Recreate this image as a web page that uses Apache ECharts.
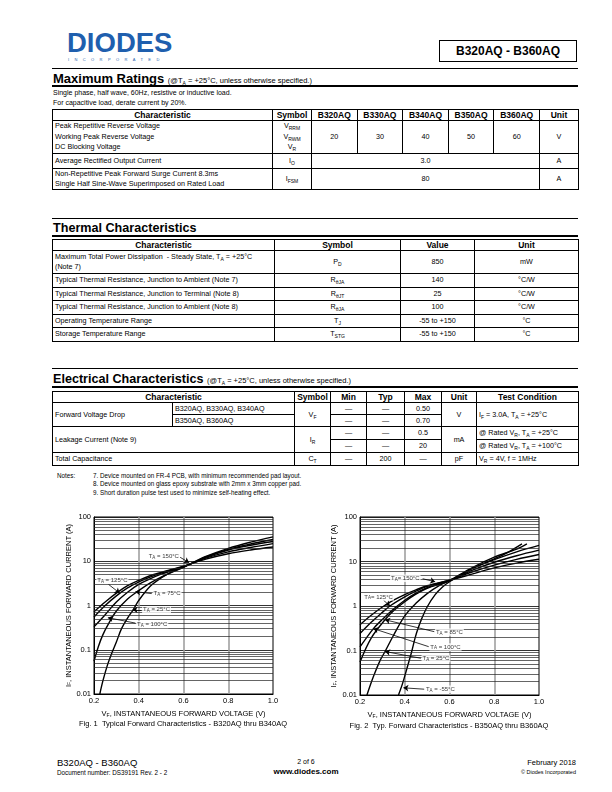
<!DOCTYPE html>
<html><head><meta charset="utf-8">
<script src="https://cdn.jsdelivr.net/npm/echarts@6/dist/echarts.min.js"></script>
<style>
body{margin:0;background:#fff;}
#page{position:relative;width:612px;height:792px;overflow:hidden;font-family:'Liberation Sans',Arial,sans-serif;color:#000;background:#fff;}
.abs{position:absolute;white-space:nowrap;}
.hl{position:absolute;left:52px;width:526px;background:#000;}
.sec{position:absolute;left:53px;font-weight:bold;font-size:13px;line-height:14px;white-space:nowrap;}
.sec small{font-weight:normal;font-size:7.5px;}
table.t{position:absolute;left:52px;width:526px;border-collapse:collapse;table-layout:fixed;border:1.5px solid #000;}
table.t td,table.t th{border:0.8px solid #000;padding:0 2px;font-size:7.2px;line-height:10px;text-align:center;white-space:nowrap;overflow:hidden;vertical-align:middle;}
table.t th{font-family:'Liberation Sans Narrow','Liberation Sans',Arial,sans-serif;font-stretch:condensed;font-size:8.5px;font-weight:bold;}
table.t td.l{text-align:left;}
sub{font-size:5px;vertical-align:-1.5px;line-height:0;}
.dash{font-size:8px;}
</style></head>
<body>
<div id="page">
  <!-- header -->
  <div class="abs" style="left:67px;top:28px;font-size:27.5px;font-weight:bold;color:#1f5fae;letter-spacing:0px;line-height:30px;">DIODES</div>
  <div class="abs" style="left:68px;top:57px;font-size:4px;letter-spacing:5.4px;color:#1f5fae;line-height:5px;">INCORPORATED</div>
  <div class="abs" style="left:439px;top:40px;width:136px;height:20px;border:1.5px solid #000;font-weight:bold;font-size:12px;line-height:20px;text-align:center;">B320AQ - B360AQ</div>
  <div class="hl" style="top:68px;height:1px;"></div>

  <div class="sec" style="top:72px;">Maximum Ratings <small>(@T<sub>A</sub> = +25°C, unless otherwise specified.)</small></div>
  <div class="hl" style="top:84.5px;height:2px;"></div>
  <div class="abs" style="left:53px;top:89px;font-size:7px;line-height:8px;">Single phase, half wave, 60Hz, resistive or inductive load.</div>
  <div class="abs" style="left:53px;top:99px;font-size:7px;line-height:8px;">For capacitive load, derate current by 20%.</div>

  <table class="t" style="top:109px;">
    <colgroup><col style="width:220px"><col style="width:39px"><col style="width:45.6px"><col style="width:45.6px"><col style="width:45.6px"><col style="width:45.6px"><col style="width:45.6px"><col style="width:39px"></colgroup>
    <tr style="height:11px"><th>Characteristic</th><th>Symbol</th><th>B320AQ</th><th>B330AQ</th><th>B340AQ</th><th>B350AQ</th><th>B360AQ</th><th>Unit</th></tr>
    <tr style="height:33px"><td class="l" style="line-height:10.5px">Peak Repetitive Reverse Voltage<br>Working Peak Reverse Voltage<br>DC Blocking Voltage</td><td style="line-height:10.5px">V<sub>RRM</sub><br>V<sub>RWM</sub><br>V<sub>R</sub></td><td>20</td><td>30</td><td>40</td><td>50</td><td>60</td><td>V</td></tr>
    <tr style="height:15px"><td class="l">Average Rectified Output Current</td><td>I<sub>O</sub></td><td colspan="5">3.0</td><td>A</td></tr>
    <tr style="height:21px"><td class="l">Non-Repetitive Peak Forward Surge Current 8.3ms<br>Single Half Sine-Wave Superimposed on Rated Load</td><td>I<sub>FSM</sub></td><td colspan="5">80</td><td>A</td></tr>
  </table>

  <div class="hl" style="top:218px;height:1px;"></div>
  <div class="sec" style="top:221px;font-size:12.6px;">Thermal Characteristics</div>
  <div class="hl" style="top:234.5px;height:2px;"></div>
  <table class="t" style="top:239px;">
    <colgroup><col style="width:222px"><col style="width:126px"><col style="width:74px"><col style="width:104px"></colgroup>
    <tr style="height:11px"><th>Characteristic</th><th>Symbol</th><th>Value</th><th>Unit</th></tr>
    <tr style="height:23px"><td class="l">Maximum Total Power Dissipation&nbsp; - Steady State, T<sub>A</sub> = +25°C<br>(Note 7)</td><td>P<sub>D</sub></td><td>850</td><td>mW</td></tr>
    <tr style="height:13.5px"><td class="l">Typical Thermal Resistance, Junction to Ambient (Note 7)</td><td>R<sub>θJA</sub></td><td>140</td><td>°C/W</td></tr>
    <tr style="height:13.5px"><td class="l">Typical Thermal Resistance, Junction to Terminal (Note 8)</td><td>R<sub>θJT</sub></td><td>25</td><td>°C/W</td></tr>
    <tr style="height:13.5px"><td class="l">Typical Thermal Resistance, Junction to Ambient (Note 8)</td><td>R<sub>θJA</sub></td><td>100</td><td>°C/W</td></tr>
    <tr style="height:13.5px"><td class="l">Operating Temperature Range</td><td>T<sub>J</sub></td><td>-55 to +150</td><td>°C</td></tr>
    <tr style="height:13.5px"><td class="l">Storage Temperature Range</td><td>T<sub>STG</sub></td><td>-55 to +150</td><td>°C</td></tr>
  </table>

  <div class="hl" style="top:368px;height:1px;"></div>
  <div class="sec" style="top:372px;font-size:12.6px;">Electrical Characteristics <small>(@T<sub>A</sub> = +25°C, unless otherwise specified.)</small></div>
  <div class="hl" style="top:385.5px;height:2px;"></div>
  <table class="t" style="top:391px;">
    <colgroup><col style="width:120px"><col style="width:122px"><col style="width:36px"><col style="width:36px"><col style="width:38px"><col style="width:37px"><col style="width:35px"><col style="width:102px"></colgroup>
    <tr style="height:11px"><th colspan="2">Characteristic</th><th>Symbol</th><th>Min</th><th>Typ</th><th>Max</th><th>Unit</th><th>Test Condition</th></tr>
    <tr style="height:12px"><td rowspan="2" class="l">Forward Voltage Drop</td><td class="l">B320AQ, B330AQ, B340AQ</td><td rowspan="2">V<sub>F</sub></td><td class="dash">—</td><td class="dash">—</td><td>0.50</td><td rowspan="2">V</td><td rowspan="2" class="l">I<sub>F</sub> = 3.0A, T<sub>A</sub> = +25°C</td></tr>
    <tr style="height:12px"><td class="l">B350AQ, B360AQ</td><td class="dash">—</td><td class="dash">—</td><td>0.70</td></tr>
    <tr style="height:13px"><td rowspan="2" colspan="2" class="l">Leakage Current (Note 9)</td><td rowspan="2">I<sub>R</sub></td><td class="dash">—</td><td class="dash">—</td><td>0.5</td><td rowspan="2">mA</td><td class="l">@ Rated V<sub>R</sub>, T<sub>A</sub> = +25°C</td></tr>
    <tr style="height:13px"><td class="dash">—</td><td class="dash">—</td><td>20</td><td class="l">@ Rated V<sub>R</sub>, T<sub>A</sub> = +100°C</td></tr>
    <tr style="height:13px"><td colspan="2" class="l">Total Capacitance</td><td>C<sub>T</sub></td><td class="dash">—</td><td>200</td><td class="dash">—</td><td>pF</td><td class="l">V<sub>R</sub> = 4V, f = 1MHz</td></tr>
  </table>
  <div class="abs" style="left:57px;top:472px;font-size:6.3px;line-height:8.3px;">Notes:</div>
  <div class="abs" style="left:93px;top:472px;font-size:6.3px;line-height:8.3px;">7. Device mounted on FR-4 PCB, with minimum recommended pad layout.<br>8. Device mounted on glass epoxy substrate with 2mm x 3mm copper pad.<br>9. Short duration pulse test used to minimize self-heating effect.</div>

  <div id="charts" style="position:absolute;left:0;top:500px;width:612px;height:240px;"></div>

  <!-- footer -->
  <div class="abs" style="left:57px;top:757px;font-size:9.5px;line-height:11px;">B320AQ - B360AQ</div>
  <div class="abs" style="left:57px;top:769px;font-size:6.3px;line-height:8px;">Document number: DS39191 Rev. 2 - 2</div>
  <div class="abs" style="left:256px;width:100px;text-align:center;top:758px;font-size:7px;line-height:8px;">2 of 6</div>
  <div class="abs" style="left:256px;width:100px;text-align:center;top:767px;font-size:8px;font-weight:bold;line-height:10px;">www.diodes.com</div>
  <div class="abs" style="left:456px;width:120px;text-align:right;top:758px;font-size:7.5px;line-height:9px;">February 2018</div>
  <div class="abs" style="left:456px;width:120px;text-align:right;top:769px;font-size:5.5px;line-height:7px;">© Diodes Incorporated</div>
</div>

<script>
// ---------------- data (V in volts, I in amperes) ----------------
const xTickLabels = ['0.2', '0.4', '0.6', '0.8', '1.0'];
const yTickLabels = ['0.01', '0.1', '1', '10', '100'];
const logMinorTicks = [0.02,0.03,0.04,0.05,0.06,0.07,0.08,0.09,0.2,0.3,0.4,0.5,0.6,0.7,0.8,0.9,2,3,4,5,6,7,8,9,20,30,40,50,60,70,80,90];

// Fig. 1  B320AQ thru B340AQ
const f1_T150 = [[0.2,0.72],[0.25,1.2],[0.3,1.9],[0.35,2.8],[0.4,3.7],[0.45,4.7],[0.5,5.6],[0.6,7.7],[0.7,11.2],[0.8,14.8],[0.9,18],[1.0,21]];
const f1_T125 = [[0.2,0.55],[0.25,1.0],[0.3,1.65],[0.35,2.5],[0.4,3.4],[0.45,4.4],[0.5,5.4],[0.6,7.6],[0.7,11.8],[0.8,16.3],[0.9,20.5],[1.0,25]];
const f1_T100 = [[0.2,0.33],[0.25,0.62],[0.3,1.2],[0.35,2.0],[0.4,3.0],[0.45,4.0],[0.5,5.1],[0.6,7.5],[0.7,12.2],[0.8,18],[0.9,23],[1.0,28]];
const f1_T75  = [[0.2,0.055],[0.22,0.12],[0.24,0.22],[0.264,0.38],[0.3,0.75],[0.35,1.4],[0.39,2.0],[0.45,3.2],[0.5,4.4],[0.6,7.3],[0.7,12.5],[0.8,18.5],[0.9,24.5],[1.0,31]];
const f1_T25  = [[0.226,0.01],[0.24,0.02],[0.26,0.045],[0.28,0.085],[0.3,0.15],[0.323,0.3],[0.35,0.52],[0.375,0.8],[0.4,1.3],[0.45,2.7],[0.5,4.2],[0.55,5.8],[0.6,7.4],[0.7,12.8],[0.8,19.5],[0.9,27],[1.0,35.6]];

// Fig. 2  B350AQ thru B360AQ
const f2_T150 = [[0.2,0.38],[0.25,0.62],[0.3,0.95],[0.35,1.35],[0.4,1.8],[0.45,2.3],[0.5,2.85],[0.6,3.8],[0.7,5.2],[0.8,7.2],[0.9,9.2],[1.0,11.2]];
const f2_T125 = [[0.2,0.24],[0.25,0.43],[0.3,0.72],[0.334,1.0],[0.4,1.6],[0.45,2.15],[0.5,2.75],[0.6,3.8],[0.7,5.8],[0.8,8.3],[0.9,11.2],[1.0,14.4]];
const f2_T100 = [[0.2,0.12],[0.26,0.31],[0.3,0.5],[0.35,0.85],[0.4,1.35],[0.45,1.95],[0.5,2.6],[0.6,3.75],[0.7,6.3],[0.8,9.6],[0.9,13.5],[1.0,18]];
const f2_T85  = [[0.2,0.055],[0.25,0.19],[0.312,0.49],[0.35,0.78],[0.4,1.25],[0.45,1.85],[0.5,2.5],[0.6,3.7],[0.7,6.9],[0.8,11],[0.9,16.5],[1.0,23]];
const f2_T25  = [[0.231,0.01],[0.26,0.026],[0.29,0.06],[0.312,0.095],[0.35,0.22],[0.4,0.6],[0.45,1.15],[0.5,1.9],[0.55,2.8],[0.6,3.7],[0.7,7.2],[0.8,12.5],[0.9,19],[0.946,25]];
const f2_Tm55 = [[0.372,0.01],[0.39,0.018],[0.41,0.04],[0.43,0.09],[0.446,0.19],[0.46,0.32],[0.476,0.52],[0.5,0.95],[0.536,1.8],[0.57,2.7],[0.6,3.5],[0.65,5],[0.7,6.9],[0.8,11.5],[0.85,15],[0.924,25]];

// curve annotations: label anchor, arrow start, arrow tip (data coords)
const f1Notes = [
  {t:'150', eq:' = ', at:[0.44,12.6],  from:[0.585,12.3], to:[0.625,9.3]},
  {t:'125', eq:' = ', at:[0.21,3.7],   from:[0.265,3.0],  to:[0.315,1.9]},
  {t:'75',  eq:' = ', at:[0.462,1.86], from:[0.458,1.86], to:[0.385,2.05]},
  {t:'25',  eq:' = ', at:[0.415,0.8],  from:[0.412,0.8],  to:[0.372,0.8]},
  {t:'100', eq:' = ', at:[0.388,0.37], from:[0.385,0.4],  to:[0.262,0.53]}
];
const f2Notes = [
  {t:'150', eq:'= ',  at:[0.334,4.2],   from:[0.48,4.1],    to:[0.536,3.5]},
  {t:'125', eq:'= ',  at:[0.215,1.6],   from:[0.305,1.35],  to:[0.334,1.0]},
  {t:'85',  eq:' = ', at:[0.535,0.26],  from:[0.532,0.265], to:[0.312,0.49]},
  {t:'100', eq:' = ', at:[0.51,0.12],   from:[0.507,0.122], to:[0.26,0.31]},
  {t:'25',  eq:' = ', at:[0.475,0.066], from:[0.472,0.067], to:[0.312,0.095]},
  {t:'-55', eq:' = ', at:[0.49,0.0135], from:[0.487,0.0135],to:[0.394,0.0145]}
];

// ---------------- chart ----------------
const FF = "'Liberation Sans', Arial, sans-serif";
const chart = echarts.init(document.getElementById('charts'), null, {renderer:'canvas', width:612, height:240});

const nameRich = {
  a:{fontSize:7.5, fontFamily:FF, color:'#000'},
  b:{fontSize:5, fontFamily:FF, color:'#000', padding:[3,0,0,0]}
};
const noteRich = {
  a:{fontSize:6, fontFamily:FF, color:'#000'},
  b:{fontSize:4.5, fontFamily:FF, color:'#000', padding:[2.5,0,0,0]}
};

function xAxisCfg(gi){
  return {
    type:'value', gridIndex:gi, min:0.2, max:1.0, interval:0.2,
    axisLine:{show:true, onZero:false, lineStyle:{color:'#000', width:1}},
    axisTick:{show:false},
    axisLabel:{fontSize:7.5, color:'#000', fontFamily:FF, margin:3,
      formatter:(v)=>xTickLabels[Math.round((v-0.2)/0.2)] || ''},
    splitLine:{show:true, showMinLine:false, showMaxLine:false, lineStyle:{color:'#9a9a9a', width:1.5}},
    name:'{a|V}{b|F}{a|, INSTANTANEOUS FORWARD VOLTAGE (V)}',
    nameLocation:'middle', nameGap:gi===0?14:16,
    nameTextStyle:{rich:nameRich}
  };
}
function yAxisCfg(gi){
  return {
    type:'log', logBase:10, gridIndex:gi, min:0.01, max:100,
    axisLine:{show:true, onZero:false, lineStyle:{color:'#000', width:1}},
    axisTick:{show:false},
    axisLabel:{fontSize:7.5, color:'#000', fontFamily:FF, margin:3,
      formatter:(v)=>yTickLabels[Math.round(Math.log10(v))+2] || ''},
    splitLine:{show:true, lineStyle:{color:'#000', width:0.8}},
    name:'{a|I}{b|F}{a|, INSTANTANEOUS FORWARD CURRENT (A)}',
    nameLocation:'middle', nameRotate:90, nameGap:gi===0?21:22,
    nameTextStyle:{rich:nameRich}
  };
}
function curve(gi, data){
  return {type:'line', xAxisIndex:gi, yAxisIndex:gi, data:data, smooth:0.35,
    symbol:'none', silent:true, z:4, lineStyle:{color:'#000', width:1.4}};
}
function minorGrid(gi){
  return {type:'line', xAxisIndex:gi, yAxisIndex:gi, data:[], silent:true, z:1,
    markLine:{silent:true, symbol:['none','none'], label:{show:false},
      lineStyle:{color:'#222', width:0.7, type:'solid'},
      emphasis:{disabled:true},
      data:logMinorTicks.map(v=>({yAxis:v}))}};
}
function notes(gi, list){
  return {type:'scatter', xAxisIndex:gi, yAxisIndex:gi, symbolSize:0, silent:true, z:6,
    data:list.map(n=>({value:n.at,
      label:{formatter:'{a|T}{b|A}{a|' + n.eq + n.t + '°C}'}})),
    label:{show:true, position:'right', distance:0, backgroundColor:'#fff', padding:[0,1], rich:noteRich},
    markLine:{silent:true, symbol:['none','arrow'], symbolSize:5, label:{show:false},
      lineStyle:{color:'#000', width:0.8, type:'solid'}, emphasis:{disabled:true},
      data:list.map(n=>[{coord:n.from},{coord:n.to}])}};
}

chart.setOption({
  animation:false,
  textStyle:{fontFamily:FF},
  grid:[
    {left:94, top:17, width:179, height:177, show:true, borderColor:'#000', borderWidth:1, containLabel:false, outerBoundsMode:'none'},
    {left:360, top:17, width:179, height:178, show:true, borderColor:'#000', borderWidth:1, containLabel:false, outerBoundsMode:'none'}
  ],
  xAxis:[xAxisCfg(0), xAxisCfg(1)],
  yAxis:[yAxisCfg(0), yAxisCfg(1)],
  graphic:[
    {type:'text', x:183, y:224, style:{text:'Fig. 1  Typical Forward Characteristics - B320AQ thru B340AQ', align:'center', verticalAlign:'middle', fontSize:7.5, fontFamily:FF, fill:'#000'}},
    {type:'text', x:449, y:226, style:{text:'Fig. 2  Typ. Forward Characteristics - B350AQ thru B360AQ', align:'center', verticalAlign:'middle', fontSize:7.5, fontFamily:FF, fill:'#000'}}
  ],
  series:[
    minorGrid(0), minorGrid(1),
    curve(0,f1_T150), curve(0,f1_T125), curve(0,f1_T100), curve(0,f1_T75), curve(0,f1_T25),
    curve(1,f2_T150), curve(1,f2_T125), curve(1,f2_T100), curve(1,f2_T85), curve(1,f2_T25), curve(1,f2_Tm55),
    notes(0,f1Notes), notes(1,f2Notes)
  ]
});
</script>
</body></html>
